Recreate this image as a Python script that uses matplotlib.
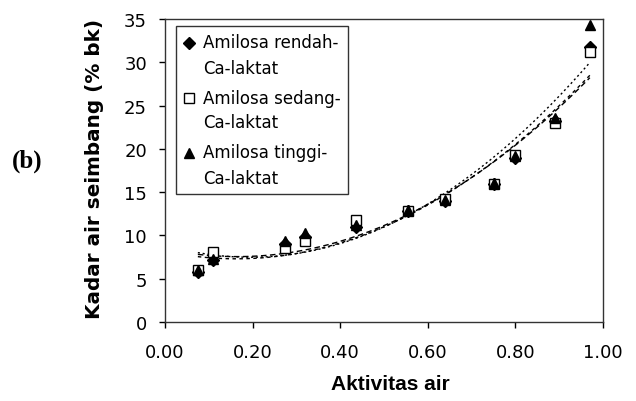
import numpy as np
import matplotlib
matplotlib.use("Agg")
import matplotlib.pyplot as plt
from matplotlib.legend_handler import HandlerLine2D

plt.rcParams['font.family'] = ['DejaVu Sans']

aw_rendah = [0.075, 0.11, 0.275, 0.32, 0.435, 0.555, 0.64, 0.75, 0.80, 0.89, 0.97]
y_rendah = [5.8, 7.2, 9.0, 9.8, 11.0, 12.8, 14.0, 15.9, 19.0, 23.2, 31.8]

aw_sedang = [0.075, 0.11, 0.275, 0.32, 0.435, 0.555, 0.64, 0.75, 0.80, 0.89, 0.97]
y_sedang = [6.0, 8.1, 8.5, 9.4, 11.8, 12.8, 14.2, 15.9, 19.3, 23.0, 31.2]

aw_tinggi = [0.075, 0.11, 0.275, 0.32, 0.435, 0.555, 0.64, 0.75, 0.80, 0.89, 0.97]
y_tinggi = [6.0, 7.3, 9.3, 10.3, 11.2, 12.9, 14.1, 16.0, 19.2, 23.6, 34.3]

labels = ["Amilosa rendah-\nCa-laktat", "Amilosa sedang-\nCa-laktat", "Amilosa tinggi-\nCa-laktat"]
x_ticks = [0.0, 0.2, 0.4, 0.6, 0.8, 1.0]
y_ticks = [0, 5, 10, 15, 20, 25, 30, 35]


class TopHandler(HandlerLine2D):
    """Place the legend marker level with the first line of a two-line label."""
    def __init__(self, shift, **kw):
        super().__init__(**kw)
        self.shift = shift

    def create_artists(self, legend, orig_handle, xdescent, ydescent,
                       width, height, fontsize, trans):
        arts = super().create_artists(legend, orig_handle, xdescent, ydescent,
                                      width, height, fontsize, trans)
        for a in arts:
            yd = np.asarray(a.get_ydata(), dtype=float)
            a.set_ydata(yd + self.shift)
        return arts


fig = plt.figure(figsize=(6.36, 4.02), dpi=100)
ax = fig.add_axes([165/636, 1-323/402, (603-165)/636, (323-20)/402])

series = [
    (aw_rendah, y_rendah, dict(marker='D', markersize=6, color='black', markerfacecolor='black')),
    (aw_sedang, y_sedang, dict(marker='s', markersize=7, color='black', markerfacecolor='white', markeredgewidth=1.0)),
    (aw_tinggi, y_tinggi, dict(marker='^', markersize=7.5, color='black', markerfacecolor='black')),
]
dashes = [(0, (2.5, 2.5)), (0, (4, 2.5)), (0, (1.5, 2))]
handles = []
for (xs, ys, st), lab, ds in zip(series, labels, dashes):
    xs = np.array(xs); ys = np.array(ys)
    coef = np.polyfit(xs, ys, 2)
    xx = np.linspace(xs.min(), xs.max(), 200)
    ax.plot(xx, np.polyval(coef, xx), color='black', lw=1.0, linestyle=ds, zorder=2)
    h, = ax.plot(xs, ys, linestyle='none', label=lab, zorder=3, **st)
    handles.append(h)

ax.set_xlim(0, 1.0)
ax.set_ylim(0, 35)
ax.set_xticks(x_ticks)
ax.set_xticklabels([f"{v:.2f}" for v in x_ticks])
ax.set_yticks(y_ticks)
ax.tick_params(direction='out', length=4, width=1, labelsize=13, colors='black')
ax.tick_params(axis='x', pad=11)
ax.tick_params(axis='y', pad=9)
for s in ax.spines.values():
    s.set_linewidth(1.0)
    s.set_color('#333333')

ax.set_xlabel("Aktivitas air", fontsize=15, fontweight='bold',
              family=['Liberation Sans', 'DejaVu Sans'], va='top')
ax.xaxis.set_label_coords(0.514, -(375-323)/303)
ax.set_ylabel("Kadar air seimbang (% bk)", fontsize=14.4, fontweight='bold')
ax.yaxis.set_label_coords(-(165-104)/438, 0.51)

hm = {h: TopHandler(9.3) for h in handles}
leg = ax.legend(handles=handles, loc='upper left', bbox_to_anchor=(11/438, 1-7/303),
                frameon=True, fancybox=False, fontsize=12, handlelength=0.6,
                handletextpad=0.55, borderpad=0.45, labelspacing=0.72, edgecolor='black',
                borderaxespad=0, handler_map=hm)
leg.get_frame().set_linewidth(1.0)
for t in leg.get_texts():
    t.set_linespacing(1.5)

fig.text(12/636, 1-161/402, "(b)", fontsize=18, fontweight='bold',
         family=['Liberation Serif', 'DejaVu Serif'], va='center', ha='left')

fig.savefig("out.png", dpi=100)
